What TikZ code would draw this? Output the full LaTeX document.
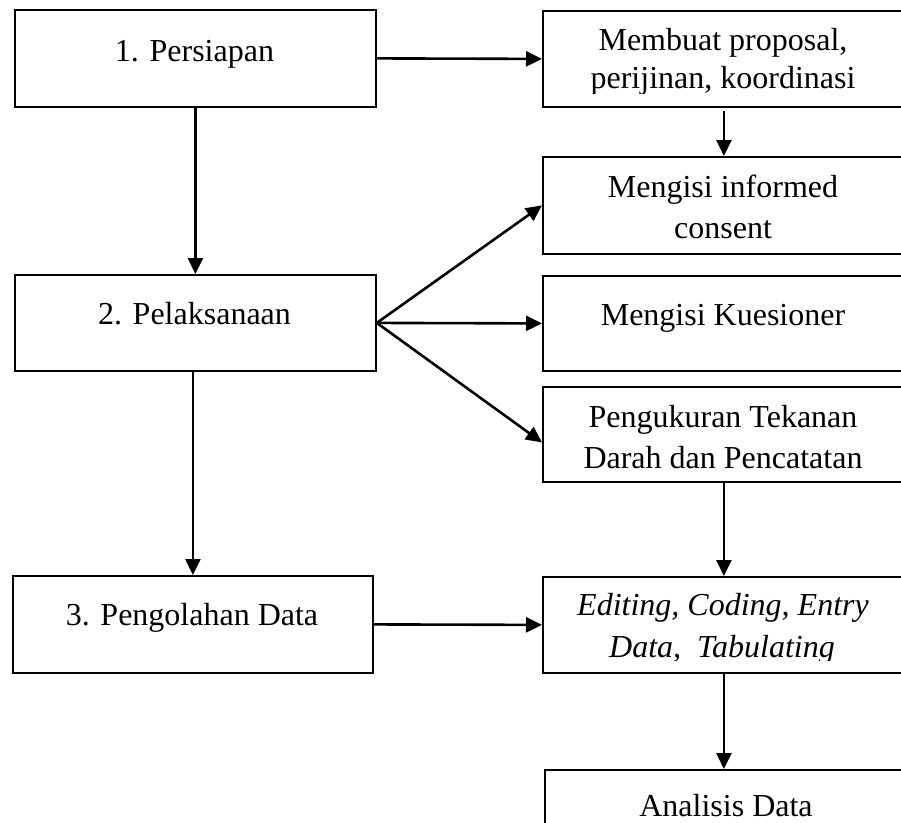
\documentclass[tikz,border=0pt]{standalone}
\usepackage{fontspec}
\setmainfont{Liberation Serif}
\usetikzlibrary{arrows.meta}
\tikzset{
  stepbox/.style={draw=black, line width=1.8pt, inner sep=0pt, anchor=north west},
  txt/.style={inner sep=0pt, anchor=base, font=\fontsize{32}{41}\selectfont},
  itxt/.style={txt, font=\fontsize{32}{41}\selectfont\itshape},
  arr/.style={line width=2.6pt, -{Triangle[length=16pt,width=15pt]}}
}
\begin{document}
\begin{tikzpicture}[x=1pt,y=-1pt]
\useasboundingbox (0,0) rectangle (901,822);
\clip (0,0) rectangle (901,822);
\fill[white] (0,0) rectangle (901,822);

% boxes
\node[stepbox, minimum width=361pt, minimum height=97pt] (b1) at (14,9) {};
\node[stepbox, minimum width=362pt, minimum height=96pt] (P)  at (542,10) {};
\node[stepbox, minimum width=362pt, minimum height=97pt] (IC) at (542,156) {};
\node[stepbox, minimum width=361pt, minimum height=96pt] (b2) at (14,274) {};
\node[stepbox, minimum width=362pt, minimum height=95pt] (K)  at (542,275) {};
\node[stepbox, minimum width=362pt, minimum height=95pt] (PT) at (542,386) {};
\node[stepbox, minimum width=360pt, minimum height=97pt] (b3) at (12,575) {};
\node[stepbox, minimum width=362pt, minimum height=96pt] (E)  at (542,576) {};
\node[stepbox, minimum width=362pt, minimum height=100pt] (A) at (544,769) {};

% texts
\node[txt] (t1) at (194.5,61) {1. Persiapan};
\begin{scope}
  \clip (542,10) rectangle (904,93);
  \node[txt] (tPa) at (723,50) {Membuat proposal,};
  \node[txt] (tPb) at (723,88) {perijinan, koordinasi};
\end{scope}
\node[txt] (tICa) at (723,197) {Mengisi informed};
\node[txt] (tICb) at (723,238) {consent};
\node[txt] (t2) at (194.5,324) {2. Pelaksanaan};
\node[txt] (tK) at (723,325) {Mengisi Kuesioner};
\node[txt] (tPTa) at (723,427) {Pengukuran Tekanan};
\node[txt] (tPTb) at (723,468) {Darah dan Pencatatan};
\node[txt] (t3) at (192,625) {3. Pengolahan Data};
\begin{scope}
  \clip (542,576) rectangle (904,660);
  \node[itxt] (tEa) at (723,615) {Editing, Coding, Entry};
  \node[itxt] (tEb) at (722,657) {Data,\ \ Tabulating};
\end{scope}
\node[txt] (tA) at (726,816) {Analisis Data};

% connectors
\draw[arr] (b1.east) -- (P.west);
\draw[arr] (b1.south) -- (b2.north);
\draw[arr, shorten <=3pt] (P.south) -- (IC.north);
\draw[arr] (b2.east) -- (IC.west);
\draw[arr] (b2.east) -- (K.west);
\draw[arr] (b2.east) -- ([yshift=-8pt]PT.west);
\draw[arr] (b3.north |- b2.south) -- (b3.north);
\draw[arr] (PT.south) -- (E.north);
\draw[arr] (b3.east) -- (E.west);
\draw[arr] (E.south) -- (E.south |- A.north);
\end{tikzpicture}
\end{document}
